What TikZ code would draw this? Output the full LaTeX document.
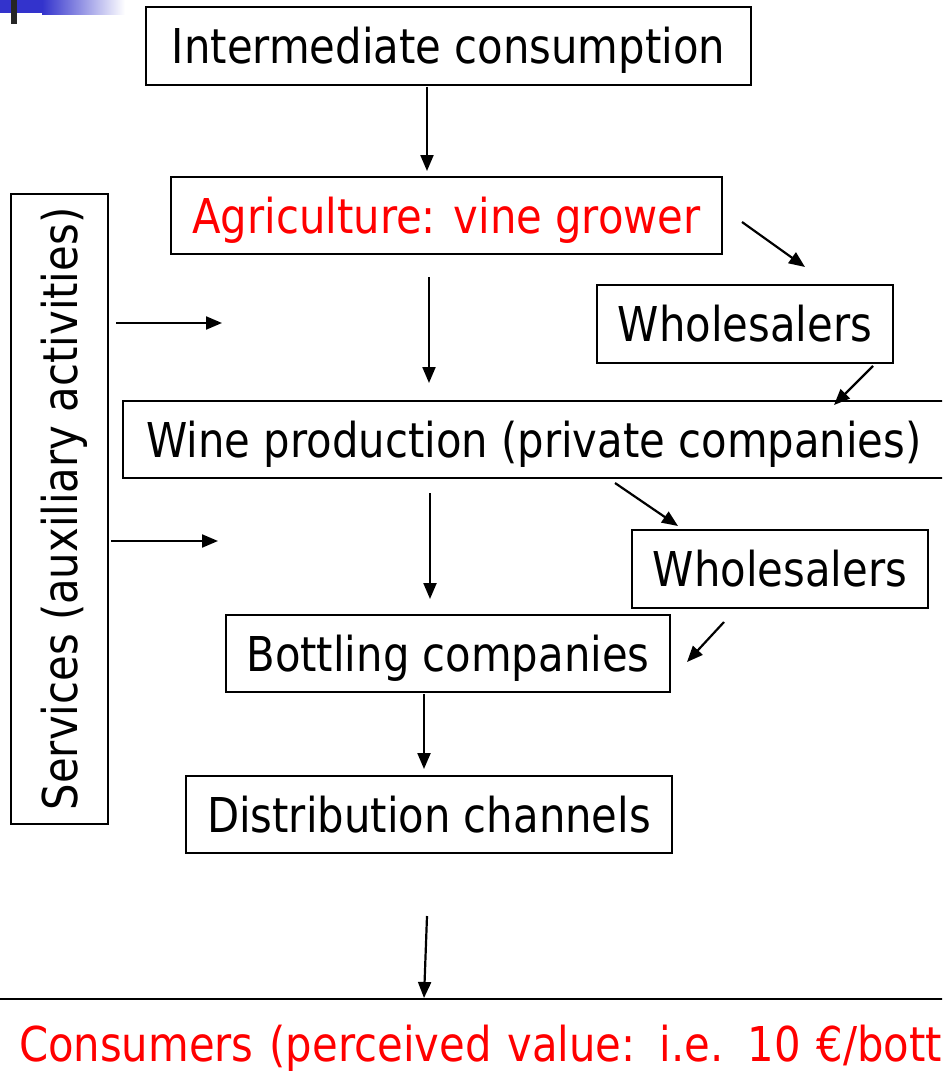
\documentclass[tikz,border=0pt]{standalone}
\usepackage{fontspec}
\setmainfont{DejaVu Sans}[FakeStretch=0.87]
\usepackage{xcolor}
\usepackage{tikz}
\usetikzlibrary{arrows.meta, positioning}
\definecolor{SlideBlue}{HTML}{3333CC}
\definecolor{GrowerRed}{HTML}{FF0000}

\begin{document}
\begin{tikzpicture}[x=1pt, y=-1pt,
    box/.style={draw, line width=2pt, inner sep=0pt, minimum height=77pt, text height=35pt, text depth=0pt, font=\fontsize{48}{56}\selectfont},
    flow/.style={-{Triangle[length=16pt, width=13pt]}, line width=2.2pt}]
      \useasboundingbox (0,0) rectangle (942,1073);
      \clip (0,0) rectangle (942,1073);
      % slide corner
      \fill[SlideBlue] (0,0) rectangle (42,13);
      \shade[left color=SlideBlue, right color=white] (42,0) rectangle (125,15);
      \fill[black!85] (11,0) rectangle (17,24);

      \node[box, minimum width=605pt] (inter) at (448.5,46) {Intermediate consumption};
      \node[box, minimum width=551pt, text=GrowerRed] (agri) at (446.5,215.5) {Agriculture: vine grower};
      \node[box, minimum width=296pt, minimum height=78pt] (whole1) at (745,324) {Wholesalers};
      \node[box, minimum width=822pt] (wine) at (534,439.5) {Wine production (private companies)};
      \node[box, minimum width=296pt, minimum height=78pt] (whole2) at (780,569) {Wholesalers};
      \node[box, minimum width=444pt] (bottl) at (448,653.5) {Bottling companies};
      \node[box, minimum width=486pt] (distr) at (429,814.5) {Distribution channels};
      \node[box, rotate=90, minimum width=630pt, minimum height=97pt] (serv) at (59.5,509) {Services (auxiliary activities)};
      \node[box, anchor=north west, text=GrowerRed, text width=1100pt, align=left, inner xsep=28pt, inner ysep=22pt, text height=40pt, text depth=12pt] (cons) at (-10,998) {Consumers (perceived value: i.e. 10 €/bottle)};

      \coordinate (help1) at (222,323);
      \coordinate (help2) at (218,541);

      \draw[flow] ([shift={(-21.5,1)}]inter.south) -- ([shift={(-19.5,-5)}]agri.north);
      \draw[flow] ([shift={(19,6.5)}]agri.east) -- ([shift={(60,-17)}]whole1.north);
      \draw[flow] ([shift={(128,2)}]whole1.south) -- ([shift={(300,5)}]wine.north);
      \draw[flow] ([shift={(-17.5,22)}]agri.south) -- ([shift={(-105,-17)}]wine.north);
      \draw[flow] ([shift={(81,4)}]wine.south) -- ([shift={(-102,-3)}]whole2.north);
      \draw[flow] ([shift={(-104,14)}]wine.south) -- ([shift={(-18,-15)}]bottl.north);
      \draw[flow] ([shift={(-56,13)}]whole2.south) -- ([shift={(16,8.5)}]bottl.east);
      \draw[flow] ([shift={(-24,1)}]bottl.south) -- ([shift={(-5,-6)}]distr.north);
      \draw[flow] ([shift={(-2,62)}]distr.south) -- ([xshift=-5pt]distr.south |- cons.north);
      \draw[flow] (serv.south |- help1) ++(7,0) -- (help1);
      \draw[flow] (serv.south |- help2) ++(2,0) -- (help2);
    \end{tikzpicture}
\end{document}
